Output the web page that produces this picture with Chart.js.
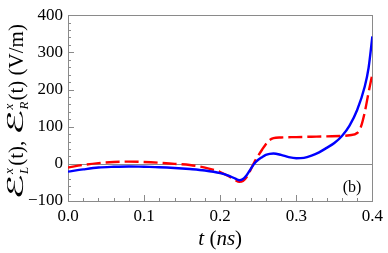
<!DOCTYPE html>
<html>
<head>
<meta charset="utf-8">
<script src="https://cdn.jsdelivr.net/npm/chart.js@4.4.0/dist/chart.umd.min.js"></script>
<style>
  html, body { margin: 0; padding: 0; background: #fff; }
  #c { display: block; }
</style>
</head>
<body>
<canvas id="c" width="388" height="253"></canvas>
<script>
// valores
const tLeft = [0, 0.02, 0.04, 0.06, 0.08, 0.10, 0.12, 0.14, 0.16, 0.18, 0.20, 0.21, 0.22, 0.225, 0.23, 0.235, 0.24, 0.245, 0.25, 0.255, 0.26, 0.265, 0.27, 0.28, 0.29, 0.30, 0.31, 0.32, 0.33, 0.34, 0.35, 0.36, 0.37, 0.38, 0.39, 0.395, 0.40];
const fieldL = [-21, -15, -10, -8, -7, -8, -9, -11, -14, -18, -25, -31, -40, -44, -41, -30, -14, 1, 11, 18, 24, 27, 28, 24, 18, 15, 16, 22, 31, 43, 56, 75, 103, 145, 208, 258, 343];

const tRight = [0, 0.02, 0.04, 0.06, 0.08, 0.10, 0.12, 0.14, 0.16, 0.18, 0.20, 0.21, 0.22, 0.225, 0.23, 0.235, 0.24, 0.245, 0.25, 0.255, 0.26, 0.265, 0.27, 0.28, 0.30, 0.32, 0.34, 0.36, 0.37, 0.38, 0.385, 0.39, 0.395, 0.40];
const fieldR = [-10, -3, 2, 5, 6, 5, 3, 0, -3, -10, -22, -32, -44, -48, -46, -35, -16, 5, 22, 38, 53, 64, 69, 71, 72, 73, 74, 75, 77, 83, 100, 139, 192, 242];

const xTicks = [0.0, 0.1, 0.2, 0.3, 0.4];
const yTicks = [-100, 0, 100, 200, 300, 400];

const SERIF = '"Liberation Serif", "DejaVu Serif", serif';

function toPoints(xs, ys) {
    return xs.map((x, i) => ({ x: x, y: ys[i] }));
}

// dibuja la E caligrafica ajustada a un ancho fijo
function drawScriptE(ctx, x, y, targetW) {
    ctx.save();
    ctx.font = '22px "DejaVu Serif", "DejaVu Sans", serif';
    const w = ctx.measureText('\u2130').width || targetW;
    ctx.translate(x, y);
    ctx.scale(targetW / w, 1);
    ctx.fillText('\u2130', 0, 0);
    ctx.restore();
    return targetW;
}

// marco, linea cero y marcas hacia dentro
const framePlugin = {
    id: 'frame',
    beforeDatasetsDraw(chart) {
        const ctx = chart.ctx;
        const a = chart.chartArea;
        const xs = chart.scales.x;
        const ys = chart.scales.y;
        ctx.save();
        ctx.strokeStyle = '#8a8a8a';
        ctx.lineWidth = 1;
        // linea y = 0
        const y0 = Math.round(ys.getPixelForValue(0)) + 0.5;
        ctx.beginPath();
        ctx.moveTo(a.left, y0);
        ctx.lineTo(a.right, y0);
        ctx.stroke();
        // marco
        ctx.strokeRect(Math.round(a.left) + 0.5, Math.round(a.top) + 0.5,
            Math.round(a.right - a.left), Math.round(a.bottom - a.top));
        // marcas eje x
        ctx.beginPath();
        for (let k = 0; k <= 20; k++) {
            const px = Math.round(xs.getPixelForValue(k * 0.02)) + 0.5;
            const len = (k % 5 === 0) ? 6 : 3;
            ctx.moveTo(px, a.bottom);
            ctx.lineTo(px, a.bottom - len);
        }
        // marcas eje y
        for (let k = 0; k <= 25; k++) {
            const py = Math.round(ys.getPixelForValue(-100 + k * 20)) + 0.5;
            const len = (k % 5 === 0) ? 6 : 3;
            ctx.moveTo(a.left, py);
            ctx.lineTo(a.left + len, py);
        }
        ctx.stroke();
        ctx.restore();
    },
    afterDraw(chart) {
        const ctx = chart.ctx;
        const a = chart.chartArea;
        ctx.save();
        ctx.fillStyle = '#000';
        ctx.textBaseline = 'alphabetic';

        // etiqueta (b)
        ctx.font = '16px ' + SERIF;
        ctx.textAlign = 'center';
        ctx.fillText('(b)', 352, 192);

        // titulo eje x: t (ns)
        const parts = [
            ['t', 'italic 21px ' + SERIF],
            [' (', '21px ' + SERIF],
            ['ns', 'italic 21px ' + SERIF],
            [')', '21px ' + SERIF]
        ];
        let w = 0;
        parts.forEach(p => { ctx.font = p[1]; w += ctx.measureText(p[0]).width; });
        let x = (a.left + a.right) / 2 - w / 2;
        ctx.textAlign = 'left';
        parts.forEach(p => {
            ctx.font = p[1];
            ctx.fillText(p[0], x, 245);
            x += ctx.measureText(p[0]).width;
        });

        // titulo eje y: E_L^x(t), E_R^x(t) (V/m), leido de abajo a arriba
        ctx.translate(23, 200);
        ctx.rotate(-Math.PI / 2);
        const big = '21px ' + SERIF;
        const small = 'italic 13px ' + SERIF;
        let cx = 0;
        const pair = (sub) => {
            cx += drawScriptE(ctx, cx, 0, 26);
            ctx.font = small;
            const ws = ctx.measureText(sub).width;
            const wx = ctx.measureText('x').width;
            ctx.fillText(sub, cx, 5);
            ctx.fillText('x', cx, -10);
            cx += Math.max(ws, wx) + 1;
        };
        pair('L');
        ctx.font = big;
        ctx.fillText('(t), ', cx, 0);
        cx += ctx.measureText('(t), ').width;
        pair('R');
        ctx.font = big;
        ctx.fillText('(t) (V/m)', cx, 0);
        ctx.restore();
    }
};

new Chart(document.getElementById('c').getContext('2d'), {
    type: 'line',
    data: {
        datasets: [
            {
                label: 'L',
                data: toPoints(tLeft, fieldL),
                borderColor: '#0000ff',
                borderWidth: 2.4,
                pointRadius: 0,
                cubicInterpolationMode: 'monotone',
                fill: false,
                order: 1
            },
            {
                label: 'R',
                data: toPoints(tRight, fieldR),
                borderColor: '#ff0000',
                borderWidth: 2.4,
                borderDash: [14, 5],
                pointRadius: 0,
                cubicInterpolationMode: 'monotone',
                fill: false,
                order: 2
            }
        ]
    },
    options: {
        responsive: false,
        animation: false,
        devicePixelRatio: 1,
        layout: { padding: { left: 0, top: 11, right: 12, bottom: 0 } },
        plugins: {
            legend: { display: false },
            tooltip: { enabled: false }
        },
        scales: {
            x: {
                type: 'linear',
                min: 0,
                max: 0.4,
                afterBuildTicks: (scale) => { scale.ticks = xTicks.map(v => ({ value: v })); },
                afterFit: (scale) => { scale.height = 52; },
                grid: { display: false, drawTicks: false },
                border: { display: false },
                ticks: {
                    padding: 5,
                    color: '#000',
                    font: { family: SERIF, size: 17 },
                    maxRotation: 0,
                    callback: (v) => v.toFixed(1)
                }
            },
            y: {
                type: 'linear',
                min: -100,
                max: 400,
                afterBuildTicks: (scale) => { scale.ticks = yTicks.map(v => ({ value: v })); },
                afterFit: (scale) => { scale.width = 68; },
                grid: { display: false, drawTicks: false },
                border: { display: false },
                ticks: {
                    padding: 5,
                    color: '#000',
                    font: { family: SERIF, size: 17 },
                    callback: (v) => (v < 0 ? '\u2212' + Math.abs(v) : String(v))
                }
            }
        }
    },
    plugins: [framePlugin]
});
</script>
</body>
</html>
